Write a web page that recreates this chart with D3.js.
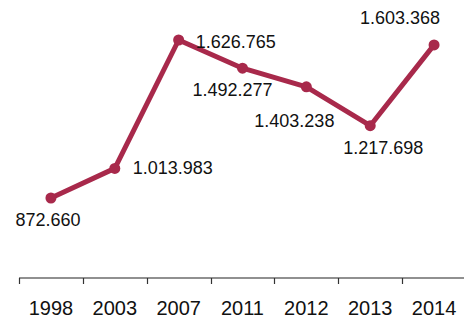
<!DOCTYPE html>
<html lang="en">
<head>
<meta charset="utf-8">
<script src="https://d3js.org/d3.v7.min.js"></script>
<style>
  body { margin: 0; background: #fff; }
  text { font-family: Arial, "Liberation Sans", sans-serif; fill: #111; }
</style>
</head>
<body>
<script>
// data
const years  = ["1998", "2003", "2007", "2011", "2012", "2013", "2014"];
const values = [872660, 1013983, 1626765, 1492277, 1403238, 1217698, 1603368];
const labels = ["872.660", "1.013.983", "1.626.765", "1.492.277", "1.403.238", "1.217.698", "1.603.368"];

// where each value label sits relative to its point
const labelPos = [
  {dx: -3, dy: 28, anchor: "middle"},
  {dx: 18, dy: 6, anchor: "start"},
  {dx: 17, dy: 8, anchor: "start"},
  {dx: -10, dy: 28, anchor: "middle"},
  {dx: -12, dy: 40, anchor: "middle"},
  {dx: 13, dy: 28, anchor: "middle"},
  {dx: -34, dy: -21, anchor: "middle"}
];

const width = 464, height = 320;
const color = "#a8294b";

var svg = d3.select("body")
  .append("svg")
    .attr("width", width)
    .attr("height", height);

// X axis (band, ticks on band edges)
var x = d3.scaleBand()
  .domain(years)
  .range([19, 466]);

// Y scale
var y = d3.scaleLinear()
  .domain([872660, 1626765])
  .range([198, 40]);

var axis = svg.append("g")
  .attr("transform", "translate(0,278)");

axis.append("line")
  .attr("x1", x.range()[0])
  .attr("x2", width)
  .attr("stroke", "#222")
  .attr("stroke-width", 1.2);

axis.selectAll(".tick")
  .data(years)
  .enter()
  .append("line")
    .attr("x1", d => Math.round(x(d)) + 0.5)
    .attr("x2", d => Math.round(x(d)) + 0.5)
    .attr("y1", 0)
    .attr("y2", 6)
    .attr("stroke", "#333")
    .attr("stroke-width", 1.2);

axis.selectAll(".lbl")
  .data(years)
  .enter()
  .append("text")
    .attr("x", d => x(d) + x.bandwidth() / 2)
    .attr("y", 37)
    .attr("text-anchor", "middle")
    .style("font-size", "20px")
    .text(d => d);

// line
var pts = years.map((d, i) => ({year: d, value: values[i], label: labels[i], pos: labelPos[i]}));

var line = d3.line()
  .x(d => x(d.year) + x.bandwidth() / 2)
  .y(d => y(d.value));

svg.append("path")
  .datum(pts)
  .attr("d", line)
  .attr("fill", "none")
  .attr("stroke", color)
  .attr("stroke-width", 5)
  .attr("stroke-linejoin", "round");

svg.selectAll("circle")
  .data(pts)
  .enter()
  .append("circle")
    .attr("cx", d => x(d.year) + x.bandwidth() / 2)
    .attr("cy", d => y(d.value))
    .attr("r", 5.5)
    .attr("fill", color);

svg.selectAll(".val")
  .data(pts)
  .enter()
  .append("text")
    .attr("class", "val")
    .attr("x", d => x(d.year) + x.bandwidth() / 2 + d.pos.dx)
    .attr("y", d => y(d.value) + d.pos.dy)
    .attr("text-anchor", d => d.pos.anchor)
    .style("font-size", "18px")
    .text(d => d.label);
</script>
</body>
</html>
